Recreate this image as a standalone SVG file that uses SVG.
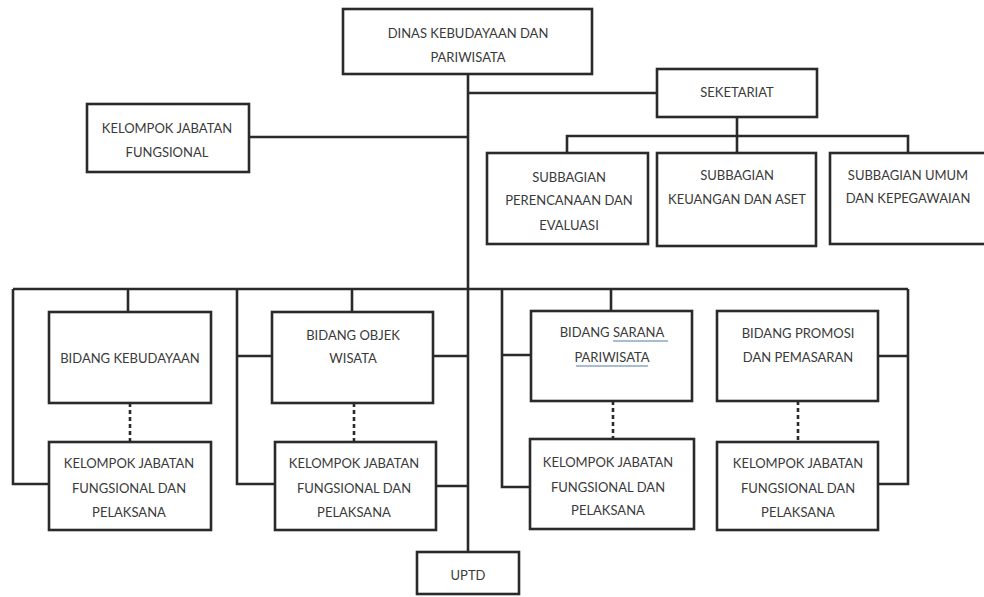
<svg xmlns="http://www.w3.org/2000/svg" width="984" height="597" viewBox="0 0 984 597">
<style>
.box{fill:#fff;stroke:#2a2a2a;stroke-width:2.6}
.ln{fill:none;stroke:#2a2a2a;stroke-width:2.6}
.dash{fill:none;stroke:#2a2a2a;stroke-width:2.6;stroke-dasharray:4 3}
text{font-family:Lato,"Liberation Sans",sans-serif;font-size:13px;fill:#3a3a3a;text-anchor:middle}
.sq{fill:none;stroke:#8fa6c4;stroke-width:1.4}
</style>
<rect width="984" height="597" fill="#fff"/>
<g id="connectors">
<path class="ln" d="M468 74V552"/>
<path class="ln" d="M468 93H657"/>
<path class="ln" d="M249 137H468"/>
<path class="ln" d="M737 117V153M567 153V136H908V153"/>
<path class="ln" d="M13 289H908"/>
<path class="ln" d="M128 289V312"/>
<path class="ln" d="M13 289V484H49"/>
<path class="ln" d="M352 289V312"/>
<path class="ln" d="M237 289V484H275M237 356H272"/>
<path class="ln" d="M433 356H468M436 486H468"/>
<path class="ln" d="M611 289V311"/>
<path class="ln" d="M502 289V487H530M502 355H531"/>
<path class="ln" d="M908 289V484H878M878 356H908"/>
<path class="dash" d="M130 403V442"/>
<path class="dash" d="M354 403V442"/>
<path class="dash" d="M613 401V439"/>
<path class="dash" d="M798 401V442"/>
</g>
<g id="dinas"><rect class="box" x="343" y="9" width="249" height="65"/><text x="468" y="38">DINAS KEBUDAYAAN DAN</text><text x="468" y="62">PARIWISATA</text></g>
<g id="seketariat"><rect class="box" x="657" y="69" width="160" height="48"/><text x="737" y="97">SEKETARIAT</text></g>
<g id="kjf"><rect class="box" x="87" y="104" width="162" height="68"/><text x="167" y="133">KELOMPOK JABATAN</text><text x="167" y="157">FUNGSIONAL</text></g>
<g id="sub1"><rect class="box" x="487" y="153" width="161" height="91"/><text x="569" y="182">SUBBAGIAN</text><text x="569" y="205">PERENCANAAN DAN</text><text x="569" y="230">EVALUASI</text></g>
<g id="sub2"><rect class="box" x="657" y="153" width="159" height="93"/><text x="737" y="180">SUBBAGIAN</text><text x="737" y="204">KEUANGAN DAN ASET</text></g>
<g id="sub3"><rect class="box" x="830" y="153" width="170" height="91"/><text x="908" y="180">SUBBAGIAN UMUM</text><text x="908" y="203">DAN KEPEGAWAIAN</text></g>
<g id="bid1"><rect class="box" x="49" y="312" width="162" height="91"/><text x="130" y="363">BIDANG KEBUDAYAAN</text></g>
<g id="kel1"><rect class="box" x="49" y="442" width="162" height="88"/><text x="129" y="468">KELOMPOK JABATAN</text><text x="129" y="493">FUNGSIONAL DAN</text><text x="129" y="517">PELAKSANA</text></g>
<g id="bid2"><rect class="box" x="272" y="312" width="161" height="91"/><text x="353" y="340">BIDANG OBJEK</text><text x="353" y="363">WISATA</text></g>
<g id="kel2"><rect class="box" x="275" y="442" width="161" height="88"/><text x="354" y="468">KELOMPOK JABATAN</text><text x="354" y="493">FUNGSIONAL DAN</text><text x="354" y="517">PELAKSANA</text></g>
<g id="bid3"><rect class="box" x="531" y="311" width="161" height="90"/><text x="612" y="337">BIDANG SARANA</text><text x="612" y="362">PARIWISATA</text><path class="sq" d="M613 341H668M576 366H648"/></g>
<g id="kel3"><rect class="box" x="530" y="439" width="164" height="90"/><text x="608" y="467">KELOMPOK JABATAN</text><text x="608" y="492">FUNGSIONAL DAN</text><text x="608" y="515">PELAKSANA</text></g>
<g id="bid4"><rect class="box" x="717" y="311" width="161" height="90"/><text x="798" y="338">BIDANG PROMOSI</text><text x="798" y="362">DAN PEMASARAN</text></g>
<g id="kel4"><rect class="box" x="717" y="442" width="161" height="88"/><text x="798" y="468">KELOMPOK JABATAN</text><text x="798" y="493">FUNGSIONAL DAN</text><text x="798" y="517">PELAKSANA</text></g>
<g id="uptd"><rect class="box" x="417" y="552" width="102" height="42"/><text x="468" y="580">UPTD</text></g>
</svg>
